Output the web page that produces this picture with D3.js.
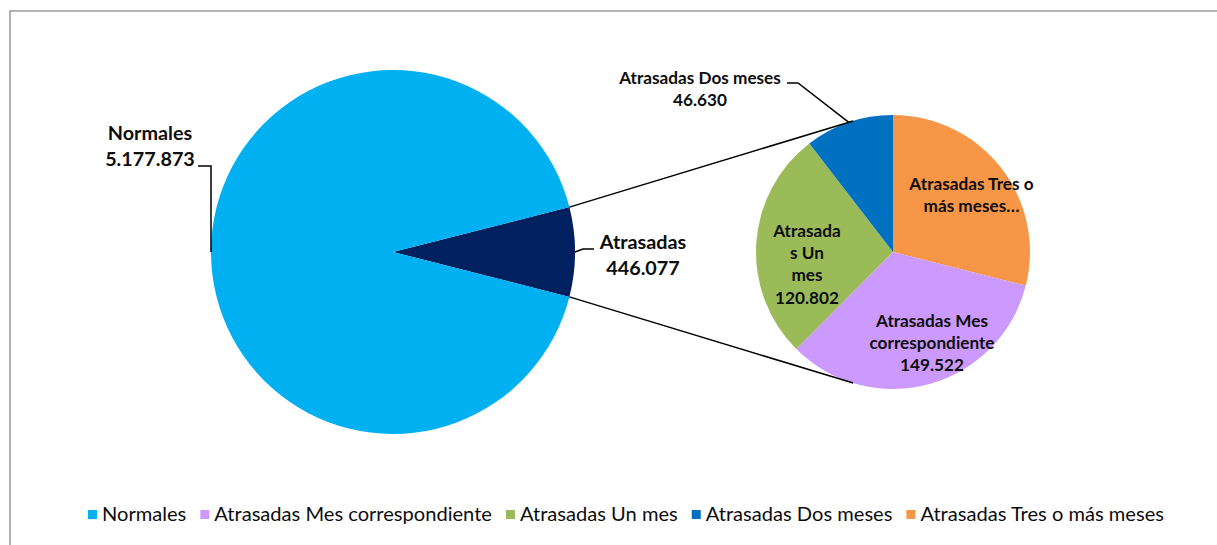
<!DOCTYPE html>
<html><head><meta charset="utf-8">
<script src="https://cdn.jsdelivr.net/npm/d3@7/dist/d3.min.js"></script>
<style>body{margin:0;background:#fff}svg{display:block}</style>
</head><body>
<svg id="chart" width="1217" height="545"></svg>
<script>
// ---- data ----
const mainCategories = ["Normales", "Atrasadas"];
const mainValues = [5177873, 446077];
const subCategories = ["Atrasadas Tres o más meses", "Atrasadas Mes correspondiente", "Atrasadas Un mes", "Atrasadas Dos meses"];
const subValues = [129123, 149522, 120802, 46630];
const legendLabels = ["Normales", "Atrasadas Mes correspondiente", "Atrasadas Un mes", "Atrasadas Dos meses", "Atrasadas Tres o más meses"];
// wrapped label text (as shown on chart)
const subLabelWraps = [["Atrasadas Tres o", "más meses…"], ["Atrasadas Mes", "correspondiente"], ["Atrasada", "s Un", "mes"], ["Atrasadas Dos meses"]];
const subShowValue = [false, true, true, true];

// ---- styles ----
const color = d3.scaleOrdinal()
  .domain(["Normales", "Atrasadas", "Atrasadas Mes correspondiente", "Atrasadas Un mes", "Atrasadas Dos meses", "Atrasadas Tres o más meses"])
  .range(["#00B0F0", "#002060", "#CC99FF", "#9BBB59", "#0070C0", "#F79646"]);

const fmt = d3.formatLocale({decimal: ",", thousands: ".", grouping: [3], currency: ["", ""]}).format(",d");

const svg = d3.select("#chart");
const W = 1217, H = 545;

// frame
svg.append("rect").attr("x", 10).attr("y", 11).attr("width", W + 20).attr("height", H + 20)
  .attr("fill", "#fff").attr("stroke", "#8c8c8c").attr("stroke-width", 1.3);

const FONT = "Lato, 'Noto Sans', sans-serif";

// ---- geometry ----
const c1 = {x: 393, y: 252}, r1 = 182;
const c2 = {x: 893, y: 252}, r2 = 137;

// ---- main pie ----
const mainData = mainCategories.map((c, i) => ({cat: c, value: mainValues[i]}));
const total = d3.sum(mainValues);
const atrAngle = 2 * Math.PI * mainValues[1] / total;
const mainStart = Math.PI / 2 - atrAngle / 2;
const mainPie = d3.pie().sort(null).value(d => d.value)
  .startAngle(mainStart).endAngle(mainStart + 2 * Math.PI);
const mainArcs = mainPie([mainData[1], mainData[0]]);
const arc1 = d3.arc().innerRadius(0).outerRadius(r1);

const g1 = svg.append("g").attr("transform", `translate(${c1.x},${c1.y})`);
g1.selectAll("path").data(mainArcs).join("path")
  .attr("d", arc1).attr("fill", d => color(d.data.cat));

// ---- sub pie ----
const subData = subCategories.map((c, i) => ({cat: c, value: subValues[i], i}));
const subPie = d3.pie().sort(null).value(d => d.value).startAngle(0).endAngle(2 * Math.PI);
const subArcs = subPie(subData);
const arc2 = d3.arc().innerRadius(0).outerRadius(r2);
const g2 = svg.append("g").attr("transform", `translate(${c2.x},${c2.y})`);
g2.selectAll("path").data(subArcs).join("path")
  .attr("d", arc2).attr("fill", d => color(d.data.cat));

// helpers
const polar = (c, r, a) => ({x: c.x + r * Math.sin(a), y: c.y - r * Math.cos(a)});
function tangent(P, C, r, upper) {
  const dx = P.x - C.x, dy = P.y - C.y, d = Math.hypot(dx, dy);
  const b = Math.acos(r / d), phi = Math.atan2(dy, dx);
  const a = upper ? phi + b : phi - b;
  return {x: C.x + r * Math.cos(a), y: C.y + r * Math.sin(a)};
}

// ---- connector lines ----
const atr = mainArcs[0];
const pTop = polar(c1, r1, atr.startAngle);
const pBot = polar(c1, r1, atr.endAngle);
const tTop = tangent(pTop, c2, r2, true);
const tBot = tangent(pBot, c2, r2, false);
[[pTop, tTop], [pBot, tBot]].forEach(([a, b]) => {
  svg.append("line").attr("x1", a.x).attr("y1", a.y).attr("x2", b.x).attr("y2", b.y)
    .attr("stroke", "#000").attr("stroke-width", 1.5);
});

// ---- labels ----
function multiText(x, y, lines, size, lh) {
  const t = svg.append("text").attr("x", x).attr("y", y)
    .attr("text-anchor", "middle").attr("font-family", FONT).attr("font-weight", 700)
    .attr("font-size", size).attr("fill", "#0d0d0d");
  lines.forEach((l, i) => t.append("tspan").attr("x", x).attr("y", y + i * lh).text(l));
  return t;
}
const leader = pts => svg.append("path").attr("d", d3.line()(pts.map(p => [p.x, p.y])))
  .attr("fill", "none").attr("stroke", "#000").attr("stroke-width", 1.5);

const MAIN_FS = 19.8, SUB_FS = 17.2;

// Normales (leader to mid of slice at 9 o'clock)
const nor = mainArcs[1];
const nMid = polar(c1, r1, (nor.startAngle + nor.endAngle) / 2);
leader([{x: 198, y: 166}, {x: nMid.x, y: 166}, nMid]);
multiText(150, 140, [mainCategories[0], fmt(mainValues[0])], MAIN_FS, 26);

// Atrasadas
const aMid = polar(c1, r1, (atr.startAngle + atr.endAngle) / 2);
leader([aMid, {x: aMid.x + 8, y: aMid.y - 3}, {x: aMid.x + 19, y: aMid.y - 3}]);
multiText(643, 249, [mainCategories[1], fmt(mainValues[1])], MAIN_FS, 26);

// Dos meses (outside)
const dos = subArcs[3];
const dMid = polar(c2, r2, (dos.startAngle + dos.endAngle) / 2);
leader([{x: 787, y: 83}, {x: 798, y: 83}, dMid]);
multiText(700, 84, [...subLabelWraps[3], fmt(subValues[3])], SUB_FS, 21.5);

// inside labels
const insidePos = [{dx: 78.5, dy: -62}, {dx: 39, dy: 74.5}, {dx: -86, dy: -15.5}];
[0, 1, 2].forEach(i => {
  const lines = subLabelWraps[i].slice();
  if (subShowValue[i]) lines.push(fmt(subValues[i]));
  multiText(c2.x + insidePos[i].dx, c2.y + insidePos[i].dy, lines, SUB_FS, 22.4);
});

// ---- legend ----
const lg = svg.append("g");
let lx = 88;
legendLabels.forEach(l => {
  lg.append("rect").attr("x", lx).attr("y", 510).attr("width", 9).attr("height", 9).attr("fill", color(l));
  const t = lg.append("text").attr("x", lx + 14).attr("y", 521).attr("font-family", FONT)
    .attr("font-size", 20.1).attr("fill", "#0d0d0d").text(l);
  lx += 14 + t.node().getComputedTextLength() + 14;
});
</script>
</body></html>
